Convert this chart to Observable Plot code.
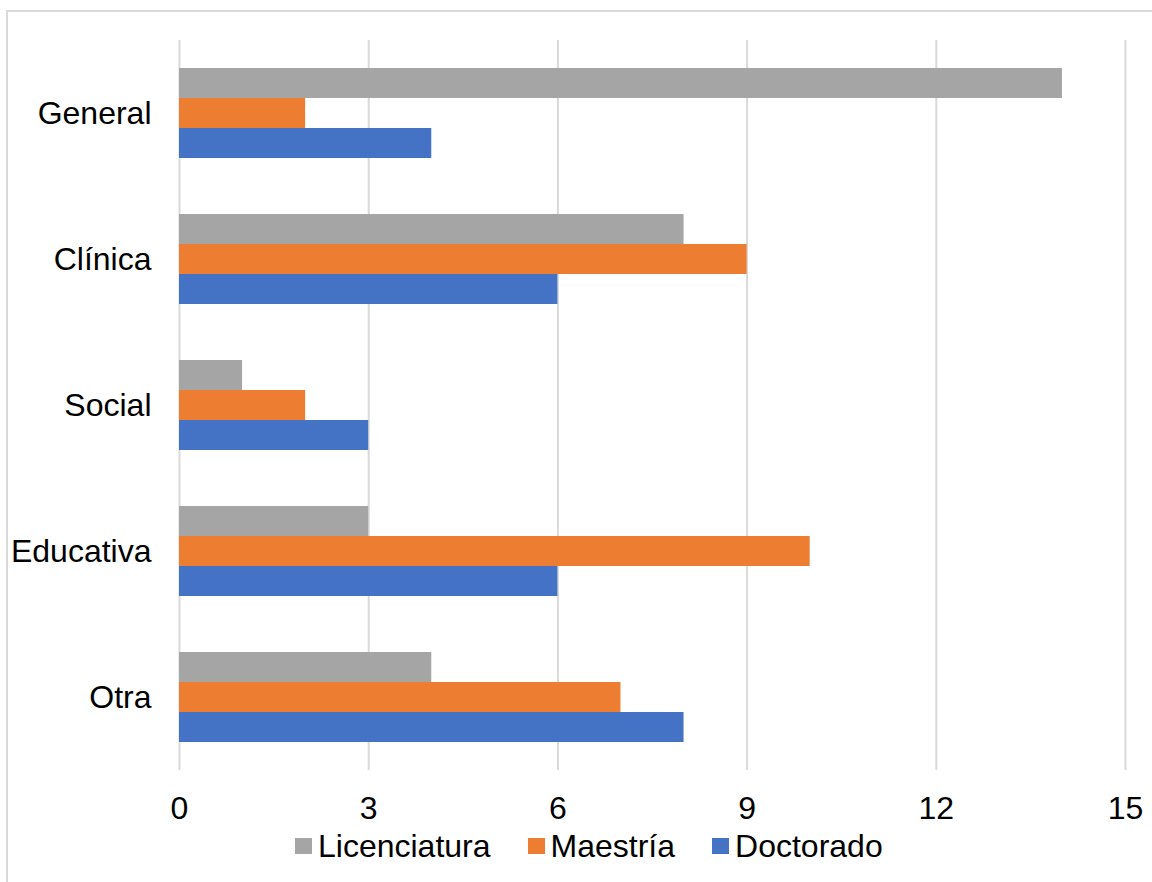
<!DOCTYPE html>
<html><head><meta charset="utf-8">
<script src="https://cdn.jsdelivr.net/npm/d3@7"></script>
<script src="https://cdn.jsdelivr.net/npm/@observablehq/plot@0.6"></script>
<style>
html,body{margin:0;padding:0;overflow:hidden;background:#fff;}
body{font-family:"Liberation Sans",Arial,sans-serif;}
#wrap{position:relative;width:1152px;height:882px;overflow:hidden;}
#frame{position:absolute;left:6px;top:10px;width:1200px;height:1000px;border:2px solid #d9d9d9;box-sizing:border-box;}
#chart{position:absolute;left:0;top:0;}
#legend{position:absolute;left:295px;top:829px;height:34px;display:flex;align-items:center;font-size:32px;color:#000;white-space:nowrap;}
.item{display:flex;align-items:center;margin-right:37px;}
.sw{width:17px;height:16px;margin-right:6px;}
</style></head>
<body>
<div id="wrap"><div id="frame"></div><div id="chart"></div><div id="legend"></div></div>
<script>
const categories = ["General","Clínica","Social","Educativa","Otra"];
const series = ["Licenciatura","Maestría","Doctorado"];
const licenciatura = [14,8,1,3,4];
const maestria = [2,9,2,10,7];
const doctorado = [4,6,3,6,8];
const colors = ["#A5A5A5","#ED7D31","#4472C4"];
const xTicks = [0,3,6,9,12,15];

const valuesBySeries = [licenciatura, maestria, doctorado];
const data = [];
series.forEach((s,i)=>categories.forEach((c,j)=>data.push({series:s, category:c, value:valuesBySeries[i][j]})));

const bandH = 90;
const third = bandH/3;
const plot = Plot.plot({
  width:1152, height:830,
  marginLeft:179, marginRight:27, marginTop:40, marginBottom:60,
  style:{fontFamily:'"Liberation Sans",Arial,sans-serif', fontSize:"32px", color:"#000", background:"transparent", overflow:"visible"},
  x:{domain:[0,15], ticks:xTicks, tickSize:0, tickPadding:26, label:null},
  y:{domain:categories, paddingInner:0.384, paddingOuter:0.192, tickSize:0, tickPadding:28, label:null},
  color:{domain:series, range:colors},
  marks:[
    Plot.gridX(xTicks,{stroke:"#d9d9d9", strokeOpacity:1, strokeWidth:2}),
    ...series.map((s,i)=>Plot.barX(data.filter(d=>d.series===s),{x:"value", y:"category", fill:"series", insetTop:third*i, insetBottom:third*(2-i)}))
  ]
});
document.getElementById("chart").appendChild(plot);

const legend = document.getElementById("legend");
series.forEach((s,i)=>{
  const it = document.createElement("div"); it.className="item";
  const sw = document.createElement("div"); sw.className="sw"; sw.style.background=colors[i];
  const t = document.createElement("span"); t.textContent=s;
  it.appendChild(sw); it.appendChild(t); legend.appendChild(it);
});
</script>
</body></html>
